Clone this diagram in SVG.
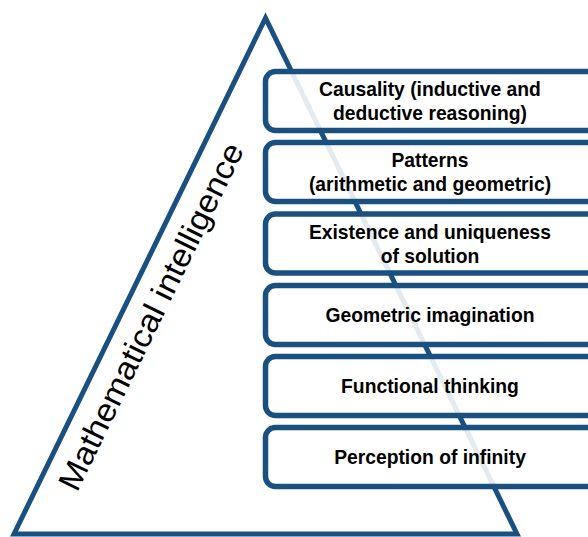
<svg xmlns="http://www.w3.org/2000/svg" width="588" height="537" viewBox="0 0 588 537">
<style>
.tri{fill:none;stroke:#1A5080;stroke-width:5;stroke-linejoin:miter}
.box{fill:#ffffff;fill-opacity:0.88;stroke:#1A5080;stroke-width:5.5}
.lbl{font-family:"Liberation Sans",Arial,sans-serif;font-weight:bold;font-size:19.3px;fill:#000;text-anchor:middle}
.side{font-family:"Liberation Sans",Arial,sans-serif;font-size:32px;fill:#000}
</style>
<rect width="588" height="537" fill="#ffffff"/>
<g id="pyramid">
<polygon class="tri" points="265.5,18 14,534 517,534"/>
<text class="side" transform="translate(77,493) rotate(-64)" textLength="382" lengthAdjust="spacingAndGlyphs">Mathematical intelligence</text>
</g>
<g id="causality">
<rect class="box" x="265.5" y="71.5" width="340" height="59" rx="10"/>
<text class="lbl" x="430" y="96">Causality (inductive and</text>
<text class="lbl" x="430" y="120">deductive reasoning)</text>
</g>
<g id="patterns">
<rect class="box" x="265.5" y="142.5" width="340" height="59" rx="10"/>
<text class="lbl" x="430" y="167">Patterns</text>
<text class="lbl" x="430" y="191">(arithmetic and geometric)</text>
</g>
<g id="existence">
<rect class="box" x="265.5" y="214" width="340" height="59" rx="10"/>
<text class="lbl" x="430" y="238.5">Existence and uniqueness</text>
<text class="lbl" x="430" y="262.5">of solution</text>
</g>
<g id="geometric">
<rect class="box" x="265.5" y="285.5" width="340" height="59" rx="10"/>
<text class="lbl" x="430" y="322">Geometric imagination</text>
</g>
<g id="functional">
<rect class="box" x="265.5" y="356.5" width="340" height="59" rx="10"/>
<text class="lbl" x="430" y="393">Functional thinking</text>
</g>
<g id="infinity">
<rect class="box" x="265.5" y="427.5" width="340" height="59" rx="10"/>
<text class="lbl" x="430" y="464">Perception of infinity</text>
</g>
</svg>
